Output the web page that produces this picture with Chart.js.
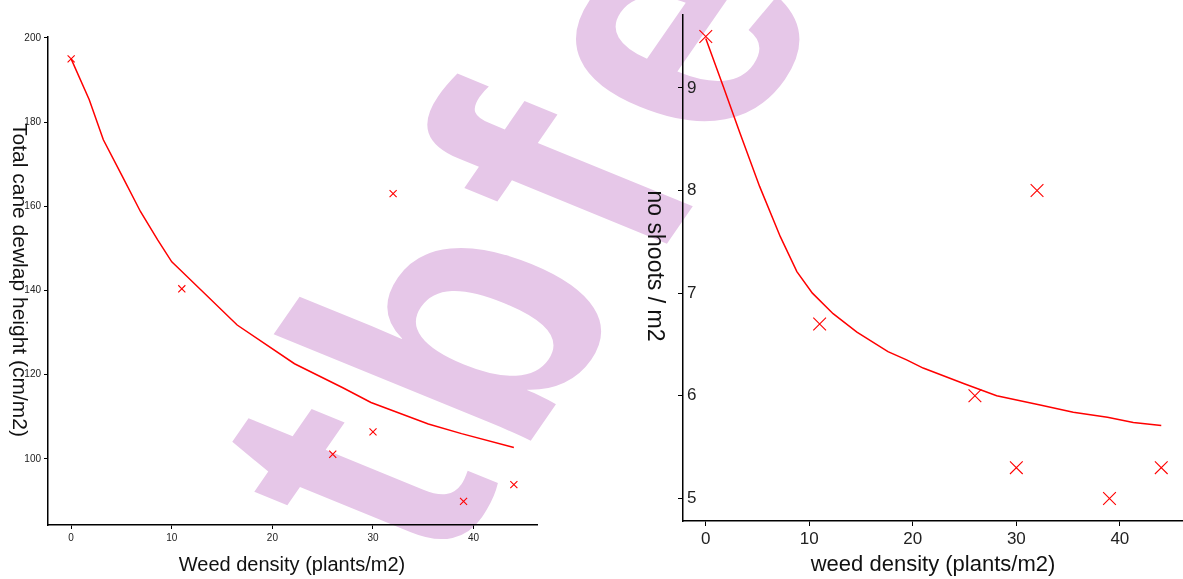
<!DOCTYPE html>
<html>
<head>
<meta charset="utf-8">
<script src="https://cdn.jsdelivr.net/npm/chart.js@4"></script>
<style>
  html, body { margin: 0; padding: 0; background: #fff; }
  #page { position: relative; width: 1183px; height: 579px; overflow: hidden; }
  #mark { position: absolute; left: 0; top: 0; z-index: 0; }
  .box { position: absolute; top: 0; height: 579px; z-index: 1; }
  #left { left: 0; width: 580px; }
  #right { left: 600px; width: 583px; }
</style>
</head>
<body>
<div id="page">
  <svg id="mark" width="1183" height="579">
    <text x="0" y="0" transform="translate(440 572) scale(1.3 1) rotate(-62)" font-family="Liberation Sans, Arial, sans-serif"
          font-weight="bold" font-size="310" letter-spacing="25" fill="#e6c7e8">tbfe</text>
  </svg>
  <div class="box" id="left"><canvas id="chartLeft"></canvas></div>
  <div class="box" id="right"><canvas id="chartRight"></canvas></div>
</div>
<script>
// observed points (same weed densities for both plots)
const weedDensity = [0, 11, 32, 26, 30, 39, 44];
const caneHeight = [195, 140.4, 163, 101.1, 106.4, 89.9, 93.9];
const shoots = [9.5, 6.7, 8.0, 6.0, 5.3, 5.0, 5.3];

// fitted curves
const caneFitX = [0, 1.8, 3.2, 5.0, 6.9, 8.6, 10.0, 10.8, 16.5, 22.2, 27.0, 29.8, 35.5, 38.8, 44.0];
const caneFitY = [195, 185.3, 175.8, 167.5, 158.7, 152.0, 146.8, 145.0, 131.8, 122.6, 116.9, 113.4, 108.3, 106.0, 102.7];
const shootFitX = [0, 1.7, 3.3, 5.2, 7.2, 8.8, 10.3, 12.3, 14.6, 17.6, 19.4, 21.0, 24.9, 28.1, 32.3, 35.5, 38.8, 41.3, 44];
const shootFitY = [9.48, 9.01, 8.56, 8.04, 7.55, 7.21, 7.0, 6.80, 6.62, 6.43, 6.35, 6.27, 6.12, 6.00, 5.91, 5.84, 5.79, 5.74, 5.71];

// tick labels
const xTicks = [0, 10, 20, 30, 40];
const caneTicks = [100, 120, 140, 160, 180, 200];
const shootTicks = [5, 6, 7, 8, 9];

const FONT = "'Liberation Sans', Arial, sans-serif";
const RED = '#ff0000';

function pts(xs, ys) {
    return xs.map((x, i) => ({ x: x, y: ys[i] }));
}

// y titles read top to bottom, so draw them ourselves
function titlesPlugin(t) {
    return {
        id: 'titles',
        afterDraw(chart) {
            const ctx = chart.ctx;
            ctx.save();
            ctx.fillStyle = '#111';
            ctx.textAlign = 'center';
            ctx.textBaseline = 'middle';
            ctx.font = t.xSize + 'px ' + FONT;
            ctx.fillText(t.x, t.xPos[0], t.xPos[1]);
            ctx.translate(t.yPos[0], t.yPos[1]);
            ctx.rotate(Math.PI / 2);
            ctx.font = t.ySize + 'px ' + FONT;
            ctx.fillText(t.y, 0, 0);
            ctx.restore();
        }
    };
}

function makeChart(id, cfg) {
    return new Chart(document.getElementById(id), {
        type: 'scatter',
        data: {
            datasets: [{
                data: pts(weedDensity, cfg.obs),
                showLine: false,
                borderColor: RED,
                backgroundColor: RED,
                pointStyle: 'crossRot',
                pointRadius: cfg.markSize,
                pointBorderColor: RED,
                pointBackgroundColor: RED,
                pointBorderWidth: 1.1
            }, {
                data: pts(cfg.fitX, cfg.fitY),
                showLine: true,
                borderColor: RED,
                backgroundColor: RED,
                borderWidth: 1.5,
                pointRadius: 0,
                tension: 0
            }]
        },
        options: {
            responsive: true,
            maintainAspectRatio: false,
            animation: false,
            events: [],
            layout: { padding: cfg.padding, autoPadding: false },
            plugins: { legend: { display: false }, tooltip: { enabled: false } },
            scales: {
                x: {
                    type: 'linear',
                    min: cfg.xRange[0],
                    max: cfg.xRange[1],
                    afterBuildTicks: s => { s.ticks = xTicks.map(v => ({ value: v })); },
                    afterFit: s => { s.height = cfg.xHeight; },
                    border: { color: '#000', width: 1.5 },
                    grid: { drawOnChartArea: false, color: '#000', tickLength: cfg.tickLen },
                    ticks: { color: '#222', padding: 3, font: { family: FONT, size: cfg.tickSize } }
                },
                y: {
                    min: cfg.yRange[0],
                    max: cfg.yRange[1],
                    afterBuildTicks: s => { s.ticks = cfg.yTicks.map(v => ({ value: v })); },
                    afterFit: s => { s.width = cfg.yWidth; },
                    border: { color: '#000', width: 1.5 },
                    grid: { drawOnChartArea: false, color: '#000', tickLength: cfg.tickLen },
                    ticks: { color: '#222', padding: cfg.yPad, mirror: cfg.mirror, font: { family: FONT, size: cfg.tickSize } }
                }
            }
        },
        plugins: [titlesPlugin(cfg.titles)]
    });
}

makeChart('chartLeft', {
    obs: caneHeight, fitX: caneFitX, fitY: caneFitY, yTicks: caneTicks,
    xRange: [-2.3, 46.3], yRange: [84.3, 200.2],
    padding: { top: 37, right: 43, left: 0, bottom: 0 },
    xHeight: 54, yWidth: 48, tickLen: 4, tickSize: 10, yPad: 3, mirror: false, markSize: 5,
    titles: { x: 'Weed density (plants/m2)', xSize: 20, xPos: [292, 565],
              y: 'Total cane dewlap height (cm/m2)', ySize: 21, yPos: [19, 280] }
});

makeChart('chartRight', {
    obs: shoots, fitX: shootFitX, fitY: shootFitY, yTicks: shootTicks,
    xRange: [-2.2, 46.1], yRange: [4.78, 9.71],
    padding: { top: 15, right: 0, left: 0, bottom: 0 },
    xHeight: 58, yWidth: 83, tickLen: 5, tickSize: 17, yPad: 4, mirror: true, markSize: 9,
    titles: { x: 'weed density (plants/m2)', xSize: 22, xPos: [333, 565],
              y: 'no shoots / m2', ySize: 23, yPos: [54, 266] }
});
</script>
</body>
</html>
